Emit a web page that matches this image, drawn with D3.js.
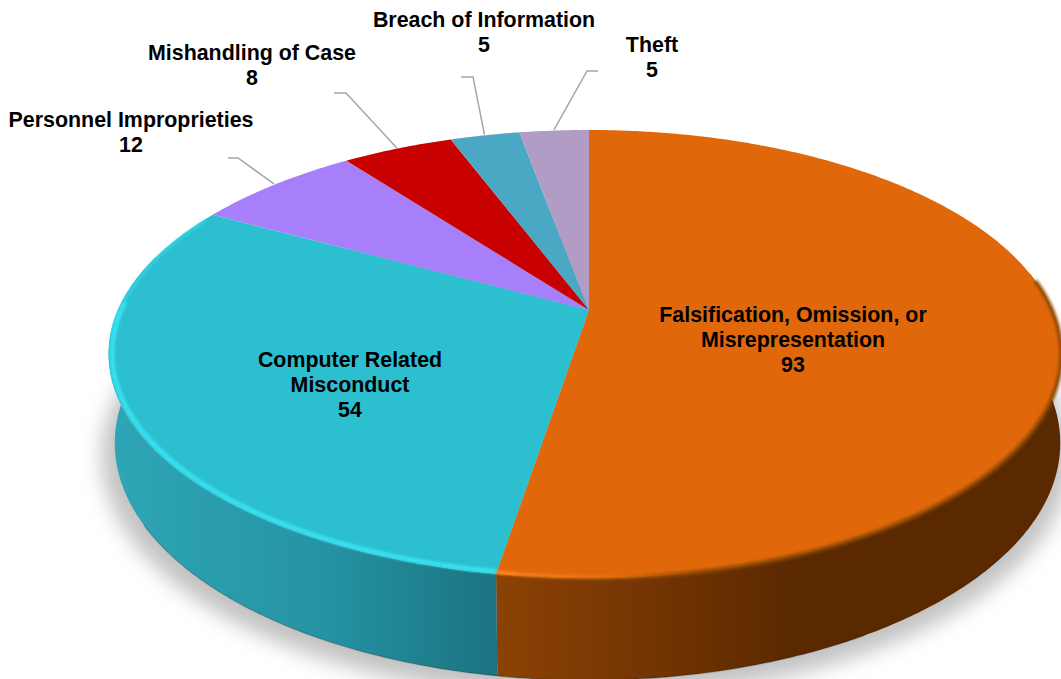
<!DOCTYPE html>
<html>
<head>
<meta charset="utf-8">
<script src="https://cdn.jsdelivr.net/npm/d3@7"></script>
<style>
  html, body { margin: 0; padding: 0; background: #fff; overflow: hidden; }
  text { font-family: "Liberation Sans", Arial, sans-serif; font-weight: bold; font-size: 21.4px; fill: #000; text-anchor: middle; }
</style>
</head>
<body>
<div id="chart"></div>
<script>
// data
var categories = ["Falsification, Omission, or Misrepresentation", "Computer Related Misconduct", "Personnel Improprieties", "Mishandling of Case", "Breach of Information", "Theft"];
var counts = [93, 54, 12, 8, 5, 5];
var colors = ["#e0680a", "#2cbfcf", "#a87ffb", "#c80000", "#4ba8c4", "#b09cc4"];

// label lines + where they sit, same order as categories
var labelLines = [
  ["Falsification, Omission, or", "Misrepresentation"],
  ["Computer Related", "Misconduct"],
  ["Personnel Improprieties"],
  ["Mishandling of Case"],
  ["Breach of Information"],
  ["Theft"]
];
var labelPos = [[793, 322], [350, 367], [131, 127], [252, 60], [484, 27], [652, 52]];
var elbows = [null, null, [[228, 158], [238, 158]], [[334, 93], [346, 93]], [[461, 77], [473, 77]], [[598, 71], [587, 71]]];

var width = 1061, height = 679;
var svg = d3.select("#chart").append("svg")
  .attr("width", width).attr("height", height)
  .attr("viewBox", [0, 0, width, height]);

// perspective disc: angle clockwise from the back of the pie
// the right half of the reference is a little narrower, so two radii
function disc(cx, cy, rRight, rLeft, b, q) {
  return function(a, k) {
    var u = k * Math.sin(a), v = k * Math.cos(a), s = 1 / (1 + q * v);
    return [cx + (u > 0 ? rRight : rLeft) * u * s, cy - b * v * s];
  };
}
var topDisc = disc(589, 310, 463, 471, 215.4, 0.1965);
var botDisc = disc(588, 399, 464, 465, 229, 0.186);

var line = d3.line();
var deg = Math.PI / 180;

function rim(f, a0, a1, k) {
  var n = Math.max(2, Math.ceil(Math.abs(a1 - a0) / (0.5 * deg)));
  return d3.range(n + 1).map(i => f(a0 + (a1 - a0) * i / n, k === undefined ? 1 : k));
}

var arcs = d3.pie().sort(null).value(d => d).startAngle(0).endAngle(2 * Math.PI)(counts);
var cut = arcs[0].endAngle;

var defs = svg.append("defs");
[["blurShadow", 10], ["blurEdge", 1.3], ["blurSoft", 1.8]].forEach(f => {
  defs.append("filter").attr("id", f[0])
    .attr("x", "-10%").attr("y", "-10%").attr("width", "120%").attr("height", "120%")
    .append("feGaussianBlur").attr("stdDeviation", f[1]);
});

function gradient(id, x1, x2, stops) {
  var g = defs.append("linearGradient").attr("id", id)
    .attr("gradientUnits", "userSpaceOnUse")
    .attr("x1", x1).attr("x2", x2).attr("y1", 0).attr("y2", 0);
  stops.forEach(s => g.append("stop").attr("offset", s[0]).attr("stop-color", s[1]).attr("stop-opacity", s[2] === undefined ? 1 : s[2]));
}
gradient("sideCyan", 112, 498, [[0, "#2ea6b6"], [0.55, "#2593a3"], [1, "#1b7380"]]);
gradient("sideOrange", 498, 795, [[0, "#8b4204"], [0.5, "#743503"], [1, "#5a2900"]]);
gradient("hiOrange", 498, 700, [[0, "#fb8420"], [0.55, "#ea7210"], [1, "#e0680a", 0]]);

// drop shadow
svg.append("path")
  .attr("d", line(rim(disc(586, 411, 476, 476, 233, 0.186), 0, 2 * Math.PI)) + "Z")
  .attr("fill", "#c2c2c2")
  .attr("filter", "url(#blurShadow)");

// side wall, front part only (the back is under the top face)
function wall(a0, a1) {
  return line(rim(topDisc, a0, a1).concat(rim(botDisc, a1, a0))) + "Z";
}
svg.append("path").attr("d", wall(80 * deg, cut)).attr("fill", "url(#sideOrange)");
svg.append("path").attr("d", wall(cut, 285 * deg)).attr("fill", "url(#sideCyan)");

// dark line along the lower edge of the wall
svg.append("path")
  .attr("d", line(rim(botDisc, 150 * deg, 240 * deg)))
  .attr("fill", "none").attr("stroke", "#000").attr("stroke-opacity", 0.18).attr("stroke-width", 1.5);

// top face
svg.selectAll("path.slice")
  .data(arcs)
  .join("path")
  .attr("class", "slice")
  .attr("d", d => line([topDisc(0, 0)].concat(rim(topDisc, d.startAngle, d.endAngle))) + "Z")
  .attr("fill", (d, i) => colors[i]);

// bevel along the rim
var bevel = svg.append("g");
bevel.append("path")
  .attr("d", line(rim(topDisc, 82 * deg, cut - 2 * deg, 1)))
  .attr("fill", "none").attr("stroke", "#8f4706").attr("stroke-width", 4).attr("filter", "url(#blurSoft)");
bevel.append("path")
  .attr("d", line(rim(topDisc, cut, 272 * deg, 0.993)))
  .attr("fill", "none").attr("stroke", "#38dfef").attr("stroke-width", 5).attr("filter", "url(#blurEdge)");
bevel.append("path")
  .attr("d", line(rim(topDisc, 262 * deg, 297 * deg, 0.995)))
  .attr("fill", "none").attr("stroke", "#38dfef").attr("stroke-opacity", 0.55).attr("stroke-width", 3).attr("filter", "url(#blurEdge)");
bevel.append("path")
  .attr("d", line(rim(topDisc, 150 * deg, cut, 0.995)))
  .attr("fill", "none").attr("stroke", "url(#hiOrange)").attr("stroke-width", 4).attr("filter", "url(#blurEdge)");

// leader lines
svg.selectAll("path.leader")
  .data(arcs.filter((d, i) => elbows[i]))
  .join("path")
  .attr("class", "leader")
  .attr("d", d => {
    var mid = (d.startAngle + d.endAngle) / 2;
    return line(elbows[d.index].concat([topDisc(mid, 1.004)]));
  })
  .attr("fill", "none").attr("stroke", "#a6a6a6").attr("stroke-width", 1.5);

// labels
var labels = svg.selectAll("text.label")
  .data(categories)
  .join("text")
  .attr("class", "label")
  .attr("x", (d, i) => labelPos[i][0])
  .attr("y", (d, i) => labelPos[i][1]);

labels.each(function(d, i) {
  var t = d3.select(this);
  labelLines[i].concat([counts[i]]).forEach((s, j) => {
    t.append("tspan")
      .attr("x", labelPos[i][0])
      .attr("y", labelPos[i][1] + j * 25.2)
      .text(s);
  });
});
</script>
</body>
</html>
